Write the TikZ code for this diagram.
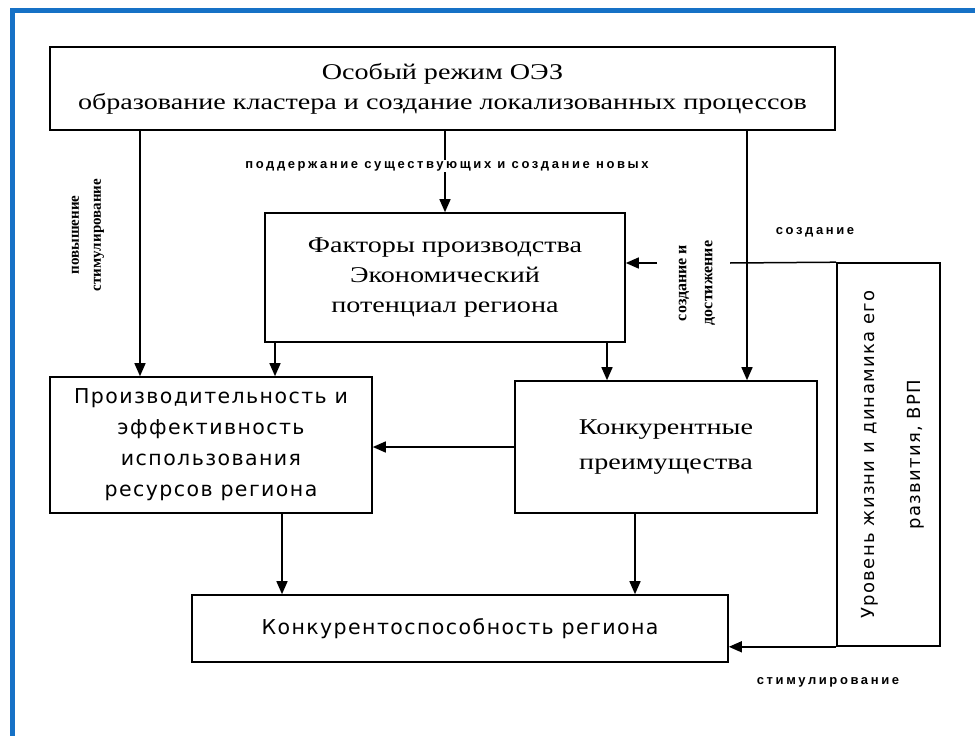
\documentclass[tikz,border=0pt]{standalone}
\usepackage{fontspec}
\setmainfont{Liberation Serif}
\newfontfamily\wideserif[FakeStretch=1.25]{Liberation Serif}
\newfontfamily\boxsans[LetterSpace=7]{DejaVu Sans}
\newfontfamily\lblsans[LetterSpace=20]{Liberation Sans}
\newfontfamily\lblserif{Liberation Serif}
\usetikzlibrary{positioning, arrows.meta}
\definecolor{frameblue}{RGB}{22,113,198}
\tikzset{
    x=1pt, y=-1pt, % one unit is one pixel of the layout, y grows downwards
    >={Triangle[length=13pt,width=11pt]}, % filled arrow heads
    link/.style={line width=1.5pt}, % every connector
    block/.style={draw, line width=1.6pt, align=center, inner sep=0pt}, % the boxes
    serifblock/.style={block, font=\wideserif\fontsize{22.5}{30}\selectfont},
    sansblock/.style={block, font=\boxsans\fontsize{20.5}{31}\selectfont},
    lbl/.style={font=\lblsans\bfseries\fontsize{13}{15}\selectfont, inner sep=1pt},
    vlbl/.style={font=\lblserif\bfseries\fontsize{15}{22}\selectfont, align=center, rotate=90, inner sep=1pt}
}
\begin{document}
\begin{tikzpicture}
    \useasboundingbox (0,0) rectangle (975,736);
    % blue frame (only its top and left sides are in view)
    \draw[frameblue, line width=5pt] (12.5,736) -- (12.5,10.5) -- (975,10.5);

    % Blocks
    \node[serifblock, minimum width=785, minimum height=83] (OEZ) at (442.5,88.5)
        {Особый режим ОЭЗ\\образование кластера и создание локализованных процессов};
    \node[serifblock, minimum width=360, minimum height=129] (FP) at (445,277.5)
        {Факторы производства\\Экономический\\потенциал региона};
    \node[sansblock, minimum width=322, minimum height=136] (PE) at (211,445)
        {Производительность и\\эффективность\\использования\\ресурсов региона};
    \node[serifblock, minimum width=302, minimum height=132, font=\wideserif\fontsize{22.5}{35}\selectfont] (KP) at (666,447)
        {Конкурентные\\преимущества};
    \node[sansblock, minimum width=536, minimum height=67] (KS) at (460,628.5)
        {Конкурентоспособность региона};
    \node[block, minimum width=103, minimum height=383] (UZ) at (888.5,454.5)
        {\rotatebox{90}{\boxsans\fontsize{18}{46}\selectfont
        \begin{tabular}{@{}c@{}}Уровень жизни и динамика его\\развития, ВРП\end{tabular}}};

    % Labels
    \node[lbl] (lSup) at (447,166) {поддержание существующих и создание новых};
    \node[vlbl] (lInc) at (88,235) {повышение\\стимулирование};
    \node[vlbl, font=\lblserif\bfseries\fontsize{16}{26}\selectfont] (lAch) at (697,283) {создание и\\достижение};
    \node[lbl] (lCre) at (815,232) {создание};
    \node[lbl] (lStim) at (828,682) {стимулирование};

    % helper points
    \coordinate (xl) at (140,0);
    \coordinate (xr) at (747,0);
    \coordinate (fl) at (275,0);
    \coordinate (fr) at (607,0);
    \coordinate (pl) at (282,0);
    \coordinate (kr) at (635,0);
    \coordinate (cr) at (730,263);
    \coordinate (ca) at (657,263);

    % Connectors
    \draw[link] (OEZ.south -| FP.north) -- (lSup.north -| FP.north);
    \draw[link, ->] (lSup.south -| FP.north) -- (FP.north);
    \draw[link, ->] (OEZ.south -| xl) -- (PE.north -| xl);
    \draw[link, ->] (OEZ.south -| xr) -- (KP.north -| xr);
    \draw[link, ->] (FP.south -| fl) -- (PE.north -| fl);
    \draw[link, ->] (FP.south -| fr) -- (KP.north -| fr);
    \draw[link, ->] (KP.west) -- (PE.east |- KP.west);
    \draw[link, ->] (PE.south -| pl) -- (KS.north -| pl);
    \draw[link, ->] (KP.south -| kr) -- (KS.north -| kr);
    \draw[link] (UZ.north west) -- (cr);
    \draw[link, ->] (ca) -- (FP.east |- ca);
    \draw[link, ->] (UZ.south west) -- (KS.east |- UZ.south west);
\end{tikzpicture}
\end{document}
